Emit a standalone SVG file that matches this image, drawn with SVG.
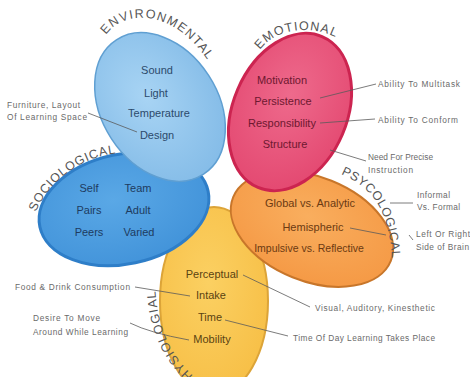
<svg xmlns="http://www.w3.org/2000/svg" width="470" height="377" viewBox="0 0 470 377">
<defs>
<radialGradient id="gEnv" cx="45%" cy="40%" r="60%"><stop offset="0" stop-color="#a8d4f4"/><stop offset="1" stop-color="#86bde8"/></radialGradient>
<radialGradient id="gEmo" cx="45%" cy="40%" r="60%"><stop offset="0" stop-color="#ee6a8c"/><stop offset="1" stop-color="#e44a72"/></radialGradient>
<radialGradient id="gSoc" cx="45%" cy="40%" r="60%"><stop offset="0" stop-color="#5aa8e6"/><stop offset="1" stop-color="#4394da"/></radialGradient>
<radialGradient id="gPsy" cx="45%" cy="40%" r="60%"><stop offset="0" stop-color="#f9ae5e"/><stop offset="1" stop-color="#f59a46"/></radialGradient>
<radialGradient id="gPhy" cx="45%" cy="40%" r="60%"><stop offset="0" stop-color="#fbd062"/><stop offset="1" stop-color="#f7c048"/></radialGradient>
<path id="pEnv" d="M106,35 C122,10 178,4 216,74 L230,100"/>
<path id="pEmo" d="M260,50 C274,30 310,22 341,40 L360,52"/>
<path id="pSoc" d="M36,212 C47,185 76,158 118,153 L140,151"/>
<path id="pPsy" d="M341,174 C368,186 390,205 392,262 L392,280"/>
<path id="pPhy" d="M200,382 C178,363 157,338 155,284 L155,260"/>
</defs>
<style>
.in{font-family:"Liberation Sans",Arial,sans-serif;font-size:11px;text-anchor:middle}
.arc{font-family:"Liberation Sans",Arial,sans-serif;font-size:12.5px;fill:#555}
.side{font-family:"Liberation Sans",Arial,sans-serif;font-size:8.3px;fill:#6a6a6a}
.lead{fill:none;stroke:#5a5a5a;stroke-width:0.8}
</style>
<rect width="470" height="377" fill="#ffffff"/>

<g id="physiological">
<ellipse cx="214" cy="301" rx="54" ry="94" fill="url(#gPhy)" stroke="#dca438" stroke-width="2"/>
<g class="in" fill="#5a4312">
<text x="212" y="278">Perceptual</text>
<text x="211" y="299">Intake</text>
<text x="210" y="321">Time</text>
<text x="212" y="343">Mobility</text>
</g>
<text class="arc" letter-spacing="1.1"><textPath href="#pPhy">PHYSIOLOGIAL</textPath></text>
</g>

<g id="psychological">
<ellipse cx="312" cy="229" rx="85" ry="52" transform="rotate(22 312 229)" fill="url(#gPsy)" stroke="#c8762a" stroke-width="2"/>
<g class="in" fill="#6b3a12">
<text x="310" y="207">Global vs. Analytic</text>
<text x="313" y="231">Hemispheric</text>
<text x="309" y="252" font-size="10.5">Impulsive vs. Reflective</text>
</g>
<text class="arc" letter-spacing="0.6"><textPath href="#pPsy">PSYCOLOGICAL</textPath></text>
</g>

<g id="emotional">
<ellipse cx="290" cy="112" rx="57" ry="82" transform="rotate(23 290 112)" fill="url(#gEmo)" stroke="#cc2450" stroke-width="3"/>
<g class="in" fill="#6d1830">
<text x="282" y="84">Motivation</text>
<text x="283" y="105">Persistence</text>
<text x="282" y="127">Responsibility</text>
<text x="285" y="148">Structure</text>
</g>
<text class="arc" letter-spacing="1.1"><textPath href="#pEmo">EMOTIONAL</textPath></text>
</g>

<g id="sociological">
<ellipse cx="124" cy="209" rx="86" ry="55" transform="rotate(-12 124 209)" fill="url(#gSoc)" stroke="#2e7ec8" stroke-width="3"/>
<g class="in" fill="#1e3b60">
<text x="89" y="192">Self</text>
<text x="138" y="192">Team</text>
<text x="89" y="214">Pairs</text>
<text x="138" y="214">Adult</text>
<text x="89" y="236">Peers</text>
<text x="139" y="236">Varied</text>
</g>
<text class="arc" letter-spacing="0.8"><textPath href="#pSoc">SOCIOLOGICAL</textPath></text>
</g>

<g id="environmental">
<ellipse cx="160" cy="107" rx="58" ry="80" transform="rotate(-33 160 107)" fill="url(#gEnv)" stroke="#5f9fd2" stroke-width="1.5"/>
<g class="in" fill="#2c4a6b">
<text x="157" y="74">Sound</text>
<text x="156" y="97">Light</text>
<text x="159" y="117">Temperature</text>
<text x="157" y="139">Design</text>
</g>
<text class="arc" letter-spacing="1.3"><textPath href="#pEnv">ENVIRONMENTAL</textPath></text>
</g>

<g id="connectors">
<path class="lead" d="M88,113 L137,132"/>
<path class="lead" d="M320,98 L376,84"/>
<path class="lead" d="M320,123 L375,119"/>
<path class="lead" d="M330,150 L366,161"/>
<path class="lead" d="M390,203 L413,203"/>
<path class="lead" d="M350,228 L386,235 M409,235 L413,240"/>
<path class="lead" d="M243,275 L310,307"/>
<path class="lead" d="M225,320 L288,336"/>
<path class="lead" d="M135,287 L190,296"/>
<path class="lead" d="M130,323 Q150,333 189,340"/>
</g>

<g id="labels">
<text class="side" x="7" y="108" textLength="73" lengthAdjust="spacing">Furniture, Layout</text>
<text class="side" x="7" y="120" textLength="80" lengthAdjust="spacing">Of Learning Space</text>
<text class="side" x="378" y="87" textLength="82" lengthAdjust="spacing">Ability To Multitask</text>
<text class="side" x="378" y="123" textLength="80" lengthAdjust="spacing">Ability To Conform</text>
<text class="side" x="368" y="160" textLength="65" lengthAdjust="spacing">Need For Precise</text>
<text class="side" x="368" y="173" textLength="45" lengthAdjust="spacing">Instruction</text>
<text class="side" x="417" y="198" textLength="33" lengthAdjust="spacing">Informal</text>
<text class="side" x="417" y="210" textLength="43" lengthAdjust="spacing">Vs. Formal</text>
<text class="side" x="416" y="237" textLength="54" lengthAdjust="spacing">Left Or Right</text>
<text class="side" x="416" y="250" textLength="53" lengthAdjust="spacing">Side of Brain</text>
<text class="side" x="315" y="311" textLength="120" lengthAdjust="spacing">Visual, Auditory, Kinesthetic</text>
<text class="side" x="293" y="341" textLength="142" lengthAdjust="spacing">Time Of Day Learning Takes Place</text>
<text class="side" x="15" y="290" textLength="115" lengthAdjust="spacing">Food &amp; Drink Consumption</text>
<text class="side" x="33" y="321" textLength="67" lengthAdjust="spacing">Desire To Move</text>
<text class="side" x="33" y="335" textLength="95" lengthAdjust="spacing">Around While Learning</text>
</g>
</svg>
